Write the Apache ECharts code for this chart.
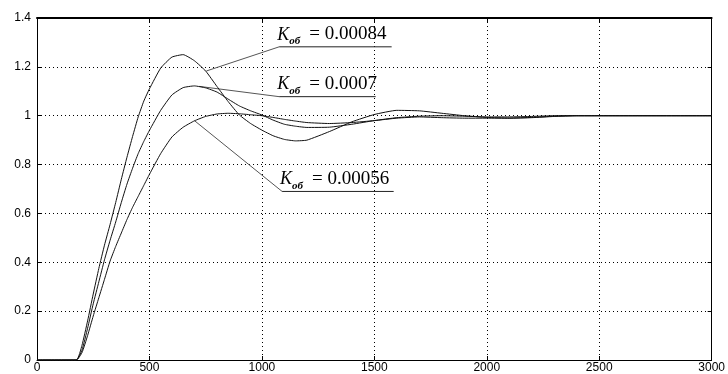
<!DOCTYPE html>
<html>
<head>
<meta charset="utf-8">
<script src="https://cdn.jsdelivr.net/npm/echarts@6/dist/echarts.min.js"></script>
<style>
  html, body { margin: 0; background: #fff; }
  #chart { width: 728px; height: 374px; }
</style>
</head>
<body>
<div id="chart"></div>
<script>
// time axis samples
const time = [0, 175, 200, 225, 250, 275, 300, 325, 350, 375, 400, 425, 450, 475, 500,
  550, 600, 650, 700, 750, 800, 850, 900, 950, 1000, 1050, 1100, 1150, 1200,
  1300, 1400, 1500, 1600, 1700, 1800, 1900, 2000, 2100, 2200, 2300, 2400, 2500, 3000];

// step responses
const k00084 = [0, 0, 0.06, 0.16, 0.27, 0.375, 0.47, 0.555, 0.645, 0.74, 0.83, 0.915, 0.995, 1.06, 1.11,
  1.195, 1.24, 1.25, 1.225, 1.183, 1.12, 1.058, 1.003, 0.968, 0.941, 0.918, 0.903, 0.897, 0.9,
  0.935, 0.975, 1.005, 1.022, 1.02, 1.01, 1.0, 0.993, 0.99, 0.992, 0.997, 1.0, 1.0, 1.0];
const k0007 = [0, 0, 0.04, 0.13, 0.23, 0.32, 0.41, 0.49, 0.565, 0.645, 0.72, 0.785, 0.845, 0.895, 0.94,
  1.022, 1.085, 1.115, 1.122, 1.114, 1.097, 1.068, 1.04, 1.02, 1.003, 0.982, 0.965, 0.957, 0.952,
  0.953, 0.965, 0.98, 0.992, 0.998, 1.0, 0.998, 0.995, 0.995, 0.997, 1.0, 1.0, 1.0, 1.0];
const k00056 = [0, 0, 0.03, 0.1, 0.18, 0.255, 0.33, 0.405, 0.465, 0.52, 0.575, 0.625, 0.67, 0.715, 0.76,
  0.845, 0.913, 0.953, 0.979, 0.997, 1.007, 1.01, 1.008, 1.004, 1.0, 0.993, 0.985, 0.978, 0.972,
  0.968, 0.972, 0.98, 0.99, 0.995, 0.992, 0.99, 0.99, 0.99, 0.993, 0.998, 1.0, 1.0, 1.0];

const gains = ['0.00084', '0.0007', '0.00056'];

function pairs(ys) {
  return time.map((t, i) => [t, ys[i]]);
}

const chart = echarts.init(document.getElementById('chart'));

const axisFont = { fontFamily: 'Liberation Sans', fontSize: 12, color: '#000' };
const dotted = { show: true, lineStyle: { color: '#000', width: 1, type: [1, 3] } };

const curve = (name, ys) => ({
  name: name,
  type: 'line',
  data: pairs(ys),
  smooth: 0.15,
  showSymbol: false,
  lineStyle: { color: '#111', width: 1 },
  silent: true
});

chart.setOption({
  animation: false,
  grid: { left: 37, right: 14, top: 18, bottom: 13 },
  xAxis: [
    {
      type: 'value', min: 0, max: 3000, interval: 500,
      axisLine: { onZero: false, lineStyle: { color: '#000', width: 1 } },
      axisTick: { inside: true, length: 4, lineStyle: { color: '#000' } },
      axisLabel: Object.assign({ margin: 2, formatter: v => String(v) }, axisFont),
      splitLine: dotted
    },
    {
      type: 'value', position: 'top', min: 0, max: 3000, interval: 500,
      axisLine: { show: true, onZero: false, lineStyle: { color: '#000', width: 2 } },
      axisTick: { inside: true, length: 4, lineStyle: { color: '#000' } },
      axisLabel: { show: false },
      splitLine: { show: false }
    }
  ],
  yAxis: [
    {
      type: 'value', min: 0, max: 1.4, interval: 0.2,
      axisLine: { show: true, onZero: false, lineStyle: { color: '#000', width: 1 } },
      axisTick: { show: true, inside: true, length: 4, lineStyle: { color: '#000' } },
      axisLabel: Object.assign({ margin: 6 }, axisFont),
      splitLine: dotted
    },
    {
      type: 'value', position: 'right', min: 0, max: 1.4, interval: 0.2,
      axisLine: { show: true, onZero: false, lineStyle: { color: '#000', width: 1 } },
      axisTick: { show: true, inside: true, length: 4, lineStyle: { color: '#000' } },
      axisLabel: { show: false },
      splitLine: { show: false }
    }
  ],
  series: [
    curve('K = ' + gains[0], k00084),
    curve('K = ' + gains[1], k0007),
    curve('K = ' + gains[2], k00056)
  ]
});

// callouts: leader from curve to an underlined label
const callouts = [
  { gain: gains[0], from: [753, 1.183], at: [1077, 1.282], end: 1577 },
  { gain: gains[1], from: [722, 1.12], at: [1077, 1.078], end: 1506 },
  { gain: gains[2], from: [700, 0.98], at: [1090, 0.69], end: 1586 }
];

const graphics = [];
callouts.forEach(c => {
  const p0 = chart.convertToPixel({ gridIndex: 0 }, c.from);
  const p1 = chart.convertToPixel({ gridIndex: 0 }, c.at);
  const pe = chart.convertToPixel({ gridIndex: 0 }, [c.end, c.at[1]]);
  graphics.push(
    { type: 'line', silent: true, shape: { x1: p0[0], y1: p0[1], x2: p1[0], y2: p1[1] },
      style: { stroke: '#555', lineWidth: 1 } },
    { type: 'line', silent: true, shape: { x1: p1[0], y1: p1[1], x2: pe[0], y2: p1[1] },
      style: { stroke: '#222', lineWidth: 1 } },
    { type: 'text', silent: true, x: p1[0] - 2, y: p1[1] - 3,
      style: { text: 'K', font: 'italic 18px "Liberation Serif"', fill: '#000', verticalAlign: 'bottom' } },
    { type: 'text', silent: true, x: p1[0] + 10, y: p1[1],
      style: { text: 'об', font: 'italic bold 11px "Liberation Serif"', fill: '#000', verticalAlign: 'bottom' } },
    { type: 'text', silent: true, x: p1[0] + 30, y: p1[1] - 3,
      style: { text: '= ' + c.gain, font: '19px "Liberation Serif"', fill: '#000', verticalAlign: 'bottom' } }
  );
});
chart.setOption({ graphic: graphics });
</script>
</body>
</html>
